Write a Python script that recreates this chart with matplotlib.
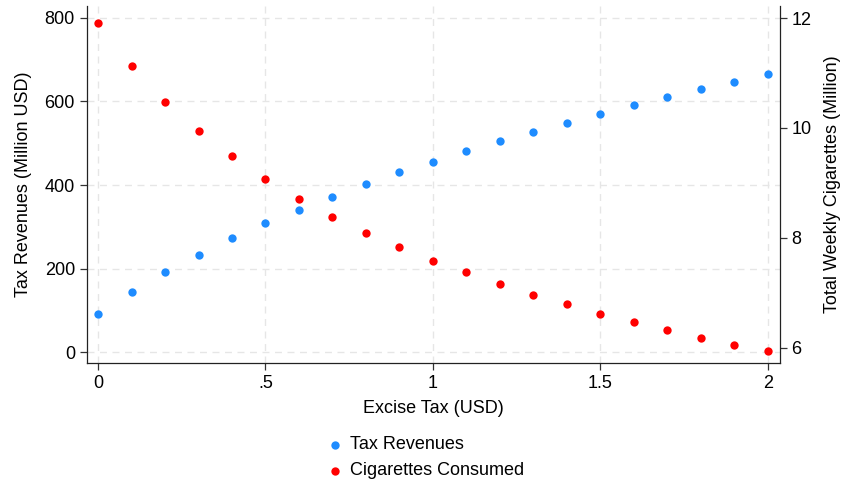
import matplotlib
matplotlib.use('Agg')
import matplotlib.pyplot as plt

plt.rcParams['font.family'] = ['Liberation Sans', 'DejaVu Sans']

# excise tax levels (USD)
tax = [0.0, 0.1, 0.2, 0.3, 0.4, 0.5, 0.6, 0.7, 0.8, 0.9, 1.0,
       1.1, 1.2, 1.3, 1.4, 1.5, 1.6, 1.7, 1.8, 1.9, 2.0]
# tax revenues (million USD)
revenues = [91, 144, 191, 233, 272, 308, 341, 372, 402, 430, 456,
            481, 505, 528, 549, 570, 591, 610, 629, 647, 665]
# total weekly cigarettes consumed (million)
cigarettes = [11.91, 11.13, 10.48, 9.94, 9.48, 9.07, 8.71, 8.38, 8.09, 7.83, 7.58,
              7.37, 7.16, 6.96, 6.79, 6.62, 6.46, 6.32, 6.18, 6.05, 5.93]

x_ticks = [0, 0.5, 1, 1.5, 2]
x_labels = ['0', '.5', '1', '1.5', '2']
left_ticks = [0, 200, 400, 600, 800]
right_ticks = [6, 8, 10, 12]

BLUE = '#1e8cff'
RED = '#ff0000'
FS = 13

fig = plt.figure(figsize=(8.42, 4.83), dpi=100)
ax = fig.add_axes([0.103, 0.2484, 0.823, 0.7392])
ax2 = ax.twinx()

s1 = ax.scatter(tax, revenues, s=36, color=BLUE, zorder=3, linewidths=0,
                label='Tax Revenues')
s2 = ax2.scatter(tax, cigarettes, s=36, color=RED, zorder=3, linewidths=0,
                 label='Cigarettes Consumed')

ax.set_xlim(-0.034, 2.036)
ax.set_ylim(-26.3, 828.7)
ax2.set_ylim(5.72, 12.22)

ax.set_xticks(x_ticks)
ax.set_xticklabels(x_labels)
ax.set_yticks(left_ticks)
ax2.set_yticks(right_ticks)

ax.grid(True, linestyle=(0, (5, 4)), color='#e6e6e6', linewidth=1.0)
ax.set_axisbelow(True)

for a in (ax, ax2):
    a.spines['top'].set_visible(False)
    a.tick_params(labelsize=FS, length=5, width=0.9, direction='out', color='#333333')
    for sp in a.spines.values():
        sp.set_linewidth(0.9)
        sp.set_color('#222222')
ax.spines['right'].set_visible(False)
ax2.spines['left'].set_visible(False)
ax2.spines['bottom'].set_visible(False)

ax.set_xlabel('Excise Tax (USD)', fontsize=FS, labelpad=6)
ax.set_ylabel('Tax Revenues (Million USD)', fontsize=FS, labelpad=9)
ax2.set_ylabel('Total Weekly Cigarettes (Million)', fontsize=FS, labelpad=9)

fig.legend(handles=[s1, s2], loc='center left', bbox_to_anchor=(329 / 842, 0.052),
           frameon=False, fontsize=FS, borderpad=0, borderaxespad=0,
           handlelength=0.7, handletextpad=0.45, labelspacing=0.5)

fig.savefig('out.png', dpi=100)
